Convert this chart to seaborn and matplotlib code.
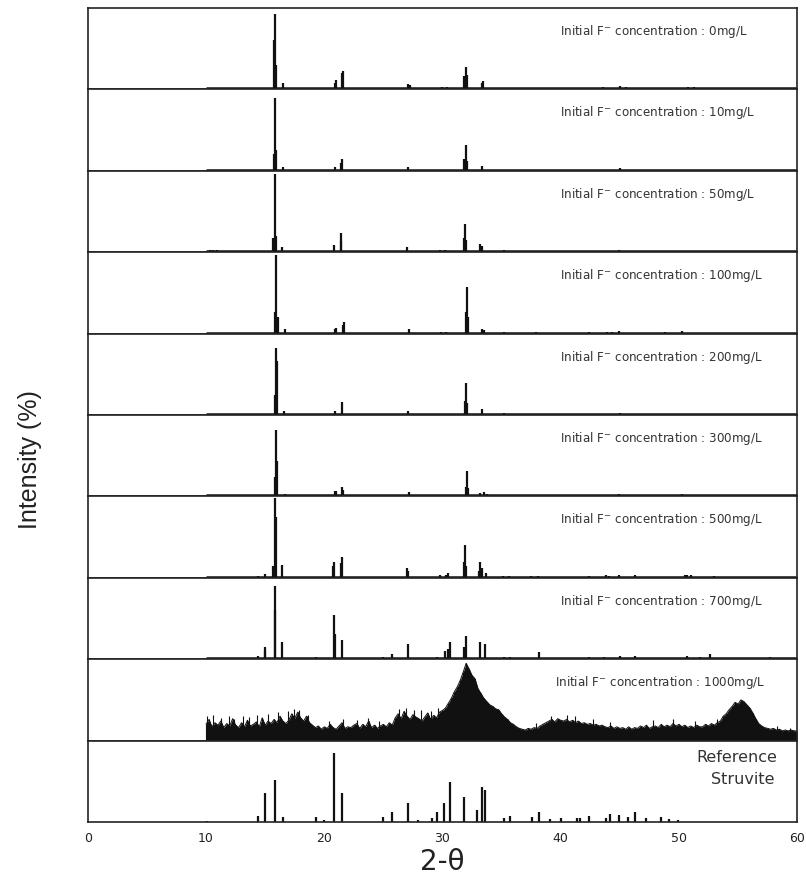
import numpy as np
import pandas as pd
import matplotlib
matplotlib.use("Agg")
import matplotlib.pyplot as plt
import seaborn as sns

# ---------------- data ----------------
conc_labels = ["0mg/L", "10mg/L", "50mg/L", "100mg/L", "200mg/L",
               "300mg/L", "500mg/L", "700mg/L", "1000mg/L"]

pos_0 = [14.9, 15.75, 15.83, 15.9, 16.5, 20.9, 21.0, 21.5, 21.6, 22.3, 22.6, 25.6, 27.1, 27.25,
         28.0, 29.0, 29.5, 30.0, 30.4, 31.85, 31.95, 32.05, 33.3, 33.45, 35.3, 35.7, 37.5, 37.9,
         42.3, 43.6, 44.1, 45.0, 45.5, 46.0, 48.0, 50.8, 51.3, 52.6, 58.1, 59.5]
int_0 = [2, 60, 92, 30, 8, 8, 11, 20, 23, 2, 2, 2, 6, 5,
         2, 2, 2, 3, 3, 16, 28, 18, 8, 10, 2, 2, 2, 2,
         2, 3, 2, 4, 3, 2, 2, 3, 3, 2, 2, 2]

pos_10 = [15.75, 15.85, 15.95, 16.55, 20.9, 21.4, 21.5, 27.1, 31.85, 31.95, 32.05, 33.3, 45.0]
int_10 = [21, 89, 25, 5, 5, 10, 15, 5, 15, 32, 12, 6, 3]

pos_50 = [10.3, 10.6, 10.9, 14.2, 14.5, 15.7, 15.8, 15.9, 16.45, 20.85, 21.4, 21.45, 27.0,
          29.8, 30.2, 31.8, 31.9, 32.0, 33.2, 33.35, 35.2, 39.0, 42.0, 43.0, 44.9, 46.5,
          48.3, 50.0, 52.0]
int_50 = [3, 3, 3, 2, 2, 17, 96, 20, 6, 9, 14, 23, 6,
          3, 3, 17, 35, 15, 10, 7, 3, 2, 2, 2, 3, 2,
          2, 2, 2]

pos_100 = [15.85, 15.95, 16.05, 16.65, 20.9, 21.0, 21.55, 21.65, 27.15, 29.9, 30.3, 31.95,
           32.05, 32.15, 33.35, 33.5, 35.2, 37.9, 42.4, 43.9, 44.3, 44.95, 48.8, 50.3]
int_100 = [26, 96, 20, 5, 6, 7, 10, 14, 5, 2, 2, 27,
           57, 20, 6, 4, 2, 2, 2, 2, 2, 3, 2, 3]

pos_200 = [15.8, 15.9, 16.0, 16.6, 20.9, 21.5, 27.1, 31.9, 32.0, 32.1, 33.3, 35.2, 45.0]
int_200 = [25, 82, 66, 5, 5, 16, 5, 17, 39, 15, 7, 2, 2]

pos_300 = [15.85, 15.95, 16.0, 16.65, 20.9, 21.0, 21.5, 21.6, 27.15, 29.9, 30.3, 31.95,
           32.05, 32.15, 33.2, 33.5, 33.8, 35.3, 37.9, 42.5, 44.0, 44.9, 46.4, 48.8, 50.3]
int_300 = [24, 82, 43, 3, 7, 6, 11, 8, 5, 2, 2, 12,
           31, 10, 4, 5, 3, 2, 2, 2, 2, 3, 2, 2, 3]

pos_500 = [14.4, 14.95, 15.7, 15.8, 15.9, 16.45, 20.75, 20.85, 21.4, 21.5, 27.0, 27.1, 29.8,
           30.3, 30.5, 31.8, 31.9, 32.0, 33.1, 33.2, 33.35, 33.65, 35.1, 35.6, 37.5, 38.1,
           42.4, 43.8, 44.1, 44.95, 46.3, 50.5, 50.7, 51.0, 53.0]
int_500 = [2, 5, 14, 98, 75, 16, 14, 20, 18, 25, 12, 8, 3,
           4, 6, 20, 40, 15, 8, 20, 12, 6, 2, 2, 2, 2,
           2, 3, 2, 3, 3, 3, 4, 3, 2]

pos_700 = [14.4, 14.95, 15.0, 15.8, 15.85, 16.45, 19.3, 20.8, 20.9, 21.5, 25.0, 25.7, 27.05,
           29.55, 30.2, 30.45, 30.6, 31.85, 31.95, 33.2, 33.6, 35.2, 35.7, 38.2, 42.4, 43.7,
           45.0, 46.3, 50.7, 51.8, 52.6, 55.0, 57.7, 58.5]
int_700 = [4, 10, 15, 90, 60, 21, 3, 54, 31, 24, 3, 6, 19,
           3, 10, 12, 21, 15, 29, 21, 19, 3, 3, 9, 3, 3,
           4, 4, 4, 3, 6, 2, 3, 2]

# 1000 mg/L pattern, read every 0.25 degree from 10 to 60
theta_1000 = [10 + 0.25 * i for i in range(201)]
int_1000 = [20, 26, 17, 22, 19, 24, 16, 21, 18, 27, 19, 16, 22, 17, 25, 18,
            20, 23, 17, 28, 19, 24, 21, 26, 22, 30, 24, 21, 25, 33, 27, 35,
            28, 24, 30, 22, 19, 16, 18, 14, 17, 15, 20, 16, 14, 18, 22, 15,
            17, 16, 19, 21, 15, 20, 17, 24, 16, 19, 15, 18, 20, 17, 22, 19,
            28, 33, 27, 36, 30, 26, 32, 29, 27, 24, 29, 34, 26, 31, 28, 35,
            37, 40, 46, 52, 60, 66, 74, 84, 95, 88, 80, 76, 64, 58, 52, 48,
            44, 42, 39, 38, 33, 29, 26, 22, 20, 17, 15, 14, 13, 15, 14, 16,
            15, 18, 20, 22, 24, 26, 23, 27, 25, 24, 26, 23, 25, 22, 24, 21,
            22, 20, 21, 19, 20, 18, 19, 17, 16, 18, 15, 17, 15, 16, 14, 17,
            14, 16, 15, 18, 16, 19, 15, 17, 18, 16, 20, 17, 19, 17, 21, 18,
            20, 17, 19, 16, 18, 16, 19, 17, 17, 20, 18, 21, 19, 22, 24, 30,
            33, 38, 42, 47, 45, 50, 48, 44, 40, 34, 27, 21, 18, 16, 15, 14,
            15, 13, 14, 12, 13, 12, 13, 12, 12]

# noise spikes seen on top of the 1000 mg/L pattern
spike_pos_1000 = [10.1, 10.6, 11.3, 11.9, 12.4, 13.1, 13.6, 14.3, 15.2, 16.1, 16.9, 17.4,
                  17.9, 18.6, 20.4, 21.6, 22.8, 23.7, 24.6, 26.3, 26.9, 27.6, 28.2, 29.0,
                  29.6, 37.9, 39.2, 40.5, 41.2, 42.7, 44.2, 47.8, 49.5, 51.4, 53.2, 58.3, 59.4]
spike_int_1000 = [30, 31, 28, 30, 27, 30, 29, 31, 33, 35, 36, 39,
                  38, 32, 24, 26, 25, 28, 24, 39, 40, 37, 38, 36,
                  40, 22, 30, 32, 30, 27, 23, 25, 26, 24, 27, 18, 16]

# Reference struvite pattern
pos_ref = [10.05, 14.4, 15.0, 15.8, 16.5, 19.3, 20.0, 20.8, 21.5, 25.0, 25.7, 27.1, 27.95,
           29.1, 29.55, 30.1, 30.6, 31.85, 32.9, 33.3, 33.6, 35.2, 35.7, 37.55, 38.2, 39.1,
           40.0, 41.4, 41.6, 42.4, 43.8, 44.2, 44.9, 45.7, 46.3, 47.2, 48.5, 49.2, 49.95]
int_ref = [1, 8, 36, 52, 6, 6, 2, 85, 36, 6, 12, 23, 3,
           5, 12, 23, 49, 31, 15, 43, 39, 5, 8, 6, 12, 4,
           5, 5, 5, 8, 5, 10, 9, 6, 12, 5, 6, 4, 2]

x_ticks = [0, 10, 20, 30, 40, 50, 60]
x_tick_labels = ["0", "10", "20", "30", "40", "50", "60"]

samples = [(pos_0, int_0), (pos_10, int_10), (pos_50, int_50), (pos_100, int_100),
           (pos_200, int_200), (pos_300, int_300), (pos_500, int_500), (pos_700, int_700)]

# ---------------- plot ----------------
sns.set_theme(style="white")
plt.rcParams['font.family'] = ['DejaVu Sans']

fig, axes = plt.subplots(10, 1, figsize=(8.06, 8.76), dpi=100, sharex=True)
fig.subplots_adjust(left=0.109, right=0.989, top=0.991, bottom=0.0616, hspace=0)

ink = "#111111"
for ax in axes:
    ax.set_xlim(0, 60)
    ax.set_ylim(0, 100)
    ax.set_yticks([])
    for s in ax.spines.values():
        s.set_linewidth(1.2)
        s.set_color("#222222")

# crystalline samples
for i, (p, v) in enumerate(samples):
    ax = axes[i]
    ax.hlines(1.2, 10, 60, color=ink, lw=1.8)
    ax.vlines(p, 0, v, color=ink, lw=1.6)
    ax.text(0.666, 0.71, f"Initial F$^{{-}}$ concentration : {conc_labels[i]}",
            transform=ax.transAxes, ha="left", va="center", fontsize=8.6, color="#333333")

# 1000 mg/L amorphous pattern
ax = axes[8]
df1000 = pd.DataFrame({"theta": theta_1000, "intensity": int_1000})
ax.fill_between(df1000["theta"], 0, df1000["intensity"], color=ink, lw=0)
sns.lineplot(data=df1000, x="theta", y="intensity", ax=ax, color=ink, lw=0.7)
ax.vlines(df1000["theta"], 0, df1000["intensity"], color=ink, lw=0.8)
ax.vlines(spike_pos_1000, 0, spike_int_1000, color=ink, lw=0.8)
ax.set_xlabel("")
ax.set_ylabel("")
ax.text(0.659, 0.71, f"Initial F$^{{-}}$ concentration : {conc_labels[8]}",
        transform=ax.transAxes, ha="left", va="center", fontsize=8.6, color="#333333")

# reference
ax = axes[9]
ax.vlines(pos_ref, 0, int_ref, color=ink, lw=1.6)
ax.text(0.915, 0.79, "Reference", transform=ax.transAxes, ha="center", va="center",
        fontsize=11.5, color="#333333")
ax.text(0.924, 0.525, "Struvite", transform=ax.transAxes, ha="center", va="center",
        fontsize=11.5, color="#333333")

ax.set_xticks(x_ticks)
ax.set_xticklabels(x_tick_labels)
ax.tick_params(axis="x", labelsize=9, length=0, pad=7, colors="#222222")
ax.set_xlabel("2-θ", fontsize=20, color="#222222", labelpad=2)

fig.text(0.037, 0.475, "Intensity (%)", rotation=90, ha="center", va="center",
         fontsize=18, color="#222222", family=["Liberation Sans", "DejaVu Sans"])

fig.savefig("out.png", dpi=100)
